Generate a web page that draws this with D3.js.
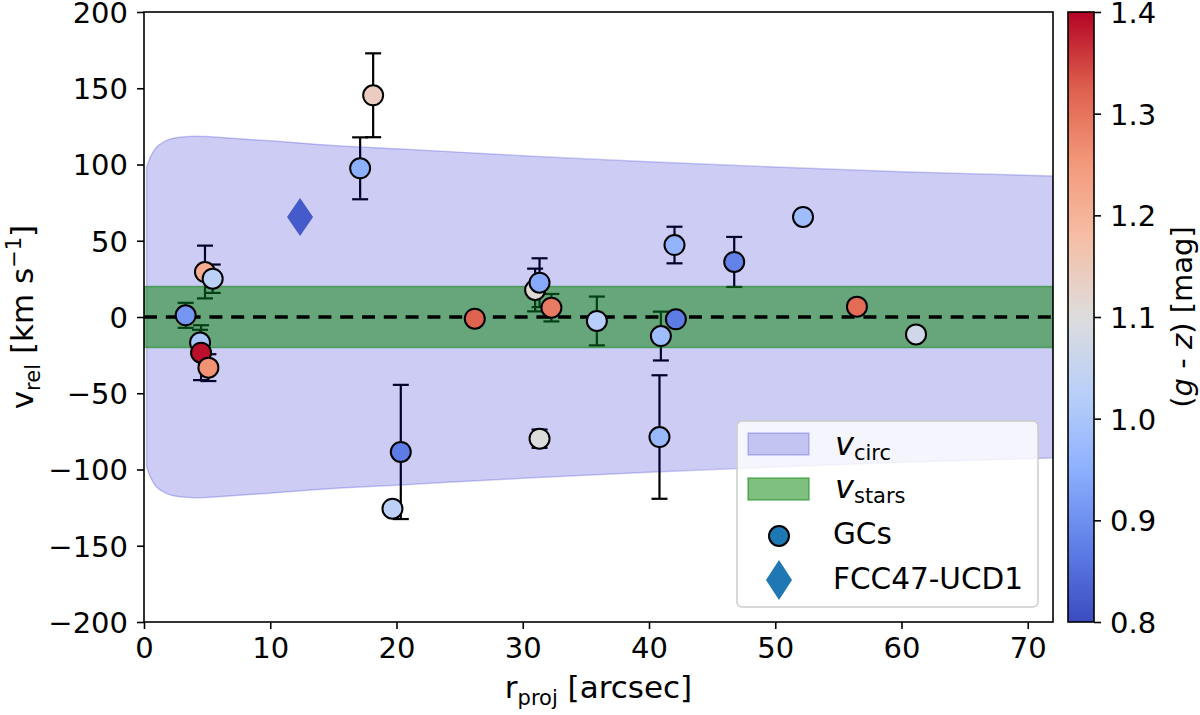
<!DOCTYPE html>
<html><head><meta charset="utf-8">
<script src="https://cdn.jsdelivr.net/npm/d3@7"></script>
<style>
body{margin:0;background:#fff;}
text{font-family:"DejaVu Sans",sans-serif;fill:#000;}
</style></head>
<body><svg id="c" width="1200" height="715"></svg>
<script>
// ---- data ----
const gcR   = [3.30, 4.44, 4.52, 4.83, 5.10, 5.44, 17.12, 18.15, 19.68, 20.34, 26.20, 30.98, 31.33, 31.33, 32.27, 35.87, 40.83, 40.94, 42.02, 42.13, 46.75, 52.20, 56.47, 61.15];
const gcV   = [1.1, -16.8, -23.4, 29.5, -33.2, 25.1, 97.5, 145.4, -125.7, -88.5, -1.1, 17.7, 22.5, -79.8, 6.1, -2.6, -78.7, -12.5, 47.2, -1.5, 36.1, 65.6, 6.8, -11.4];
const gcErr = [8.2, 8.4, 18, 17.3, 8.8, 9.3, 20.3, 27.5, 2, 44, 2, 14, 16, 6, 9, 16, 40.5, 16, 12, 3, 16.4, 0, 2, 0];
const gcCol = [0.91, 1.00, 1.39, 1.21, 1.26, 1.03, 0.95, 1.14, 1.03, 0.87, 1.32, 1.11, 0.94, 1.10, 1.29, 1.02, 0.97, 0.98, 0.96, 0.87, 0.88, 0.98, 1.31, 1.07];
const ucdR = [12.36], ucdV = [65.6], ucdCol = [0.82];
const circR = [0.2, 0.4, 0.7, 1, 1.5, 2, 3, 4, 5, 7, 10, 15, 20, 30, 40, 50, 60, 72];
const circV = [98, 103, 108, 111.5, 114.5, 116.5, 118, 118.5, 118.3, 117.2, 115.5, 112.5, 110.3, 105.8, 101.8, 98.3, 95.3, 92.5];
const starsR = [0, 72];
const starsV = [20, 20];
const xTicks = [0, 10, 20, 30, 40, 50, 60, 70];
const yTicks = [-200, -150, -100, -50, 0, 50, 100, 150, 200];
const cTicks = [0.8, 0.9, 1.0, 1.1, 1.2, 1.3, 1.4];

// ---- setup ----
const svg = d3.select("#c");
const L = 144, R = 1053, T = 12, B = 622;
const x = d3.scaleLinear([0, 72], [L, R]);
const y = d3.scaleLinear([-200, 200], [B, T]);
const cw = d3.scaleLinear([0, .125, .25, .375, .5, .625, .75, .875, 1],
  ["#3b4cc0", "#5f7fe8", "#8db0fe", "#b9d0f9", "#dddcdc", "#f5c0a7", "#f49a7b", "#de604d", "#b40426"])
  .interpolate(d3.interpolateRgb);
const cnorm = d3.scaleLinear([0.8, 1.4], [0, 1]).clamp(true);
const color = v => cw(cnorm(v));
const FS = 29;     // tick labels / legend
const LFS = 31;    // axis labels
const SUB = 21;    // subscripts

svg.append("clipPath").attr("id", "clip").append("rect")
  .attr("x", L).attr("y", T).attr("width", R - L).attr("height", B - T);
const plot = svg.append("g").attr("clip-path", "url(#clip)");

const gcs = gcR.map((r, i) => ({ r, v: gcV[i], e: gcErr[i], c: gcCol[i] }));

// error bars (below fills)
const eb = plot.append("g").attr("stroke", "#000").attr("stroke-width", 2.2);
gcs.filter(d => d.e > 0).forEach(d => {
  eb.append("line").attr("x1", x(d.r)).attr("x2", x(d.r)).attr("y1", y(d.v - d.e)).attr("y2", y(d.v + d.e));
  [d.v - d.e, d.v + d.e].forEach(v => eb.append("line")
    .attr("x1", x(d.r) - 8).attr("x2", x(d.r) + 8).attr("y1", y(v)).attr("y2", y(v)));
});

// v_circ envelope
const circ = circR.map((r, i) => ({ r, v: circV[i] }));
plot.append("path").datum(circ)
  .attr("d", d3.area().x(d => x(d.r)).y0(d => y(-d.v)).y1(d => y(d.v)).curve(d3.curveMonotoneX))
  .attr("fill", "rgba(0,0,205,0.2)").attr("stroke", "rgba(0,0,205,0.2)").attr("stroke-width", 1.5);

// v_stars band
const stars = starsR.map((r, i) => ({ r, v: starsV[i] }));
plot.append("path").datum(stars)
  .attr("d", d3.area().x(d => x(d.r)).y0(d => y(-d.v)).y1(d => y(d.v)))
  .attr("fill", "rgba(0,128,0,0.5)").attr("stroke", "rgba(0,128,0,0.5)").attr("stroke-width", 1.5);

// zero line
plot.append("line").attr("x1", x(0)).attr("x2", x(72)).attr("y1", y(0)).attr("y2", y(0))
  .attr("stroke", "#000").attr("stroke-width", 3.5).attr("stroke-dasharray", "13,8.8");

// GC points
plot.append("g").selectAll("circle").data(gcs).join("circle")
  .attr("cx", d => x(d.r)).attr("cy", d => y(d.v)).attr("r", 10)
  .attr("fill", d => color(d.c)).attr("stroke", "#000").attr("stroke-width", 2);

// UCD diamond
const diamond = (cx, cy, w, h) => `M${cx},${cy - h / 2}L${cx + w / 2},${cy}L${cx},${cy + h / 2}L${cx - w / 2},${cy}Z`;
ucdR.forEach((r, i) => plot.append("path").attr("d", diamond(x(r), y(ucdV[i]), 26, 38)).attr("fill", color(ucdCol[i])));

// frame
svg.append("rect").attr("x", L).attr("y", T).attr("width", R - L).attr("height", B - T)
  .attr("fill", "none").attr("stroke", "#000").attr("stroke-width", 1.6);

// axes
const xa = svg.append("g").attr("transform", `translate(0,${B})`)
  .call(d3.axisBottom(x).tickValues(xTicks).tickSize(7).tickPadding(8).tickFormat(d3.format("d")));
const ya = svg.append("g").attr("transform", `translate(${L},0)`)
  .call(d3.axisLeft(y).tickValues(yTicks).tickSize(7).tickPadding(9).tickFormat(d => d < 0 ? "\u2212" + Math.abs(d) : d));
[xa, ya].forEach(a => {
  a.select(".domain").remove();
  a.selectAll(".tick line").attr("stroke", "#000").attr("stroke-width", 1.6);
  a.selectAll(".tick text").attr("font-size", FS).attr("font-family", "DejaVu Sans");
});
ya.selectAll(".tick text").attr("dy", "0.36em");
xa.selectAll(".tick text").attr("dy", "0.72em");

// axis labels
const xl = svg.append("text").attr("x", (L + R) / 2).attr("y", 698).attr("text-anchor", "middle").attr("font-size", LFS);
xl.append("tspan").text("r");
xl.append("tspan").attr("font-size", SUB).attr("dy", 7).text("proj");
xl.append("tspan").attr("dy", -7).text(" [arcsec]");

const yl = svg.append("text").attr("transform", `translate(33,${(T + B) / 2}) rotate(-90)`).attr("text-anchor", "middle").attr("font-size", LFS);
yl.append("tspan").text("v");
yl.append("tspan").attr("font-size", SUB).attr("dy", 7).text("rel");
yl.append("tspan").attr("dy", -7).text(" [km s");
yl.append("tspan").attr("font-size", SUB).attr("dy", -12).text("\u22121");
yl.append("tspan").attr("dy", 12).text("]");

// legend
const lg = svg.append("g");
lg.append("rect").attr("x", 737).attr("y", 421).attr("width", 301).attr("height", 186).attr("rx", 5)
  .attr("fill", "rgba(255,255,255,0.8)").attr("stroke", "#cccccc").attr("stroke-width", 1.5);
lg.append("rect").attr("x", 748).attr("y", 433).attr("width", 61).attr("height", 22)
  .attr("fill", "rgba(0,0,205,0.2)").attr("stroke", "rgba(0,0,205,0.2)").attr("stroke-width", 1.5);
lg.append("rect").attr("x", 748).attr("y", 478).attr("width", 61).attr("height", 22)
  .attr("fill", "rgba(0,128,0,0.5)").attr("stroke", "rgba(0,128,0,0.5)").attr("stroke-width", 1.5);
lg.append("circle").attr("cx", 779).attr("cy", 536).attr("r", 10).attr("fill", "#1f77b4").attr("stroke", "#000").attr("stroke-width", 2);
lg.append("path").attr("d", diamond(779, 580, 26, 40)).attr("fill", "#1f77b4");
const t1 = lg.append("text").attr("x", 835).attr("y", 455).attr("font-size", 32);
t1.append("tspan").attr("font-style", "italic").text("v");
t1.append("tspan").attr("font-size", 21).attr("dy", 5).text("circ");
const t2 = lg.append("text").attr("x", 835).attr("y", 498).attr("font-size", 32);
t2.append("tspan").attr("font-style", "italic").text("v");
t2.append("tspan").attr("font-size", 21).attr("dy", 5).text("stars");
lg.append("text").attr("x", 833).attr("y", 544).attr("font-size", 29.5).text("GCs");
lg.append("text").attr("x", 833).attr("y", 589).attr("font-size", 29.5).text("FCC47-UCD1");

// colorbar
const CBx = 1068, CBw = 26;
const cy = d3.scaleLinear([0.8, 1.4], [B, T]);
const grad = svg.append("defs").append("linearGradient").attr("id", "cg")
  .attr("x1", 0).attr("y1", 1).attr("x2", 0).attr("y2", 0);
d3.range(0, 1.0001, 0.02).forEach(t => grad.append("stop").attr("offset", t).attr("stop-color", cw(t)));
svg.append("rect").attr("x", CBx).attr("y", T).attr("width", CBw).attr("height", B - T)
  .attr("fill", "url(#cg)").attr("stroke", "#000").attr("stroke-width", 1.6);
const ca = svg.append("g").attr("transform", `translate(${CBx + CBw},0)`)
  .call(d3.axisRight(cy).tickValues(cTicks).tickSize(7).tickPadding(9).tickFormat(d3.format(".1f")));
ca.select(".domain").remove();
ca.selectAll(".tick line").attr("stroke", "#000").attr("stroke-width", 1.6);
ca.selectAll(".tick text").attr("font-size", FS).attr("font-family", "DejaVu Sans").attr("dy", "0.36em");

const cl = svg.append("text").attr("transform", `translate(1192,${(T + B) / 2}) rotate(-90)`).attr("text-anchor", "middle").attr("font-size", 29);
cl.append("tspan").text("(");
cl.append("tspan").attr("font-style", "italic").text("g");
cl.append("tspan").text(" - ");
cl.append("tspan").attr("font-style", "italic").text("z");
cl.append("tspan").text(") [mag]");
</script></body></html>
